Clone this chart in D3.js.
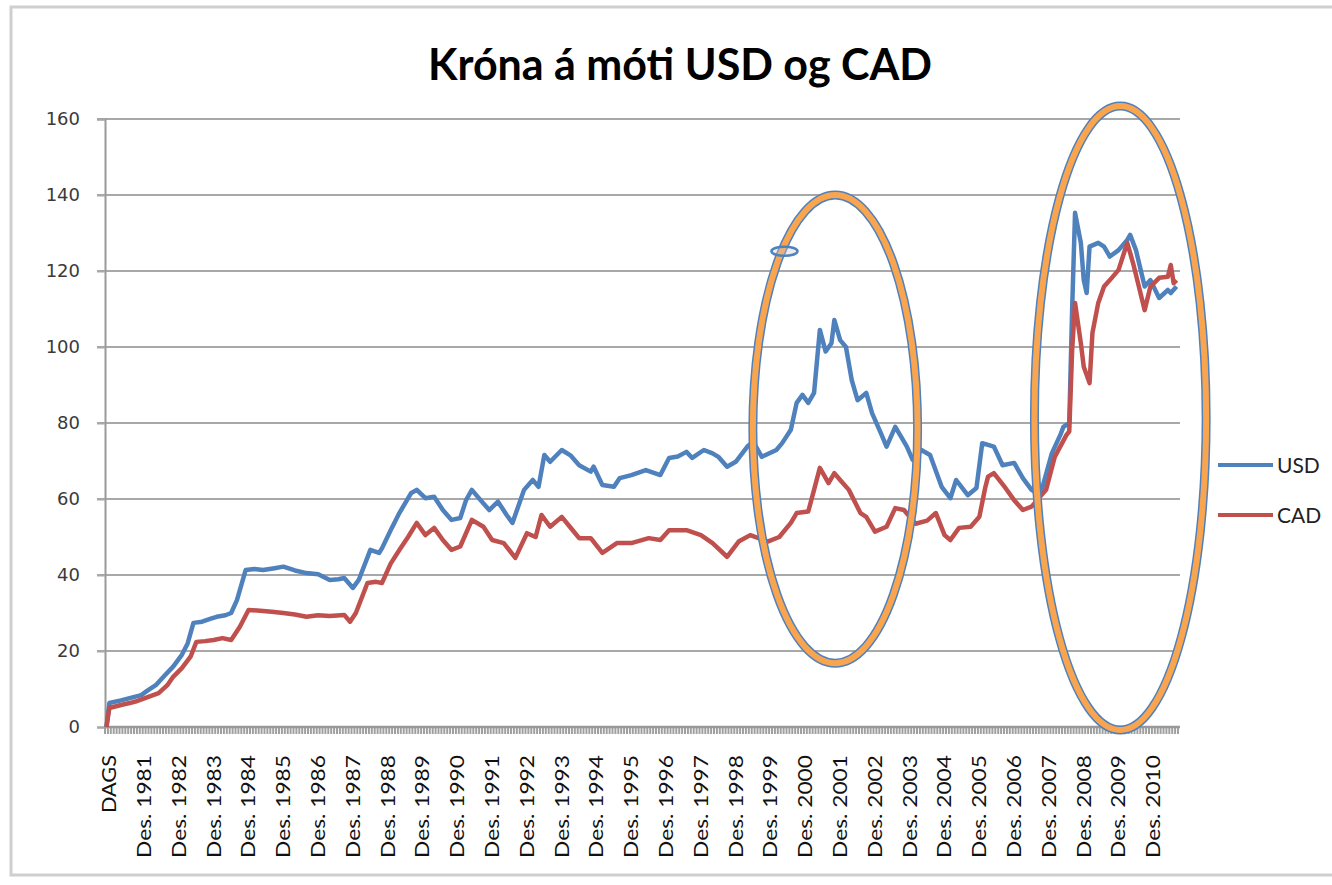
<!DOCTYPE html>
<html><head><meta charset="utf-8">
<script src="https://cdn.jsdelivr.net/npm/d3@7"></script>
<style>body{margin:0;background:#fff}</style></head>
<body>
<svg id="c" width="1332" height="885"></svg>
<script>
const chartTitle = "Króna á móti USD og CAD";
const seriesNames = ["USD", "CAD"];
const yTicks = [0, 20, 40, 60, 80, 100, 120, 140, 160];
const xTickLabels = ["DAGS", "Des. 1981", "Des. 1982", "Des. 1983", "Des. 1984", "Des. 1985", "Des. 1986", "Des. 1987", "Des. 1988", "Des. 1989", "Des. 1990", "Des. 1991", "Des. 1992", "Des. 1993", "Des. 1994", "Des. 1995", "Des. 1996", "Des. 1997", "Des. 1998", "Des. 1999", "Des. 2000", "Des. 2001", "Des. 2002", "Des. 2003", "Des. 2004", "Des. 2005", "Des. 2006", "Des. 2007", "Des. 2008", "Des. 2009", "Des. 2010"];
const categoryCount = 370; // monthly rows, first row "DAGS"
// [month index, value]
const usd = [[0,0],[1,6.3],[5,7.0],[8,7.6],[10,8.0],[12,8.4],[14,9.5],[17,11],[20,13.5],[23,15.9],[26,19],[28,22],[30,27.4],[33,27.7],[36,28.5],[38,29],[41,29.4],[43,30],[45,33.4],[48,41.3],[51,41.6],[54,41.3],[58,41.8],[61,42.2],[65,41.2],[69,40.5],[73,40.2],[77,38.7],[80,38.9],[82,39.2],[85,36.6],[87,38.7],[91,46.6],[94,45.8],[95,47],[98,51.8],[101,56.3],[105,61.5],[107,62.4],[110,60.2],[113,60.6],[116,57.1],[119,54.5],[122,55],[124,59.7],[126,62.4],[129,59.7],[132,57.1],[135,59.3],[138,55.8],[140,53.7],[144,62.4],[147,65],[149,63.2],[151,71.6],[153,69.8],[157,72.9],[160,71.5],[163,68.9],[167,67.2],[168,68.5],[171,63.7],[175,63.2],[177,65.5],[181,66.3],[186,67.6],[191,66.3],[194,70.8],[197,71.2],[200,72.4],[202,70.8],[206,72.9],[209,72.0],[211,71.1],[214,68.5],[217,69.8],[221,73.8],[223,75.1],[226,71.1],[231,72.9],[233,74.7],[236,78.2],[238,85.3],[240,87.4],[242,85.3],[244,87.9],[246,104.5],[248,98.8],[250,101],[251,107.1],[253,101.8],[255,100],[257,91.3],[259,86],[262,87.9],[264,82.6],[267,77.4],[269,73.8],[272,79],[274,76.4],[276,73.8],[278,70.3],[281,72.9],[284,71.6],[288,63.2],[291,60.2],[293,65],[297,61],[300,62.9],[302,74.7],[306,73.8],[309,68.9],[313,69.5],[316,65.5],[319,62.4],[322,61],[326,72],[329,77],[330,79],[332,80],[333,110],[334,135.3],[336,127.4],[337,117.6],[338,114.2],[339,126.4],[342,127.4],[344,126.4],[346,123.8],[349,125.5],[352,128.2],[353,129.5],[355,125.5],[358,115.9],[360,117.6],[363,112.9],[366,115],[367,114.2],[369,115.9]];
const cad = [[0,0],[1,5.0],[5,5.8],[8,6.3],[10,6.7],[14,7.8],[18,8.9],[21,11],[23,13.2],[26,15.5],[29,18.5],[31,22.4],[34,22.6],[37,22.9],[40,23.4],[43,22.9],[46,26.4],[49,30.8],[53,30.6],[57,30.3],[61,30.0],[65,29.6],[69,29],[73,29.4],[77,29.2],[82,29.5],[84,27.7],[86,30],[90,37.9],[93,38.2],[95,37.9],[98,43],[101,46.6],[104,50],[107,53.7],[110,50.5],[113,52.4],[116,49.2],[119,46.6],[122,47.5],[126,54.5],[130,52.7],[133,49.2],[137,48.4],[141,44.5],[145,51],[148,50],[150,55.8],[153,52.7],[157,55.3],[160,52.5],[163,49.7],[167,49.7],[171,45.8],[176,48.4],[181,48.4],[187,49.7],[191,49.2],[194,51.8],[200,51.8],[205,50.5],[209,48.4],[214,44.8],[218,48.8],[222,50.5],[228,48.8],[232,50],[236,53.7],[238,56.3],[242,56.7],[244,62.4],[246,68.2],[249,64.2],[251,66.8],[253,65],[256,62.4],[260,56.3],[262,55.3],[265,51.4],[269,52.7],[272,57.6],[275,57.1],[279,53.5],[283,54.3],[286,56.3],[289,50.5],[291,49.2],[294,52.4],[298,52.7],[301,55.3],[303,62.9],[304,65.9],[306,66.8],[310,62.9],[313,59.7],[316,57.1],[319,58],[324,62.4],[327,71.1],[331,76.8],[332,77.8],[333,99.2],[334,111.6],[336,101],[337,94.8],[339,90.5],[340,103.7],[342,111.6],[344,115.9],[346,117.6],[349,120.3],[352,127.4],[354,122.1],[356,115.9],[358,109.7],[360,115.9],[363,118.2],[366,118.5],[367,121.6],[368,116.8],[369,117.6]];
// highlight ellipses in data units: [centre month, centre value, half-width months, half-height value]
const highlightEllipses = [[251.3, 78.4, 28.4, 61.6], [349.6, 81.3, 29.6, 82.1]];
const smallMark = [233.8, 125.2, 4.5, 1.2];

const svg = d3.select("#c");
const colors = {USD: "#4f81bd", CAD: "#c0504d"};
const plotLeft = 105, plotRight = 1178, plotTop = 119, plotBottom = 727;

const x = d3.scaleLinear().domain([-0.5, categoryCount - 0.5]).range([plotLeft, plotRight]);
const y = d3.scaleLinear().domain([0, 160]).range([plotBottom, plotTop]);

// frame
svg.append("rect").attr("x", 11).attr("y", 7).attr("width", 1340).attr("height", 868)
  .attr("fill", "#fff").attr("stroke", "#cfcfcf").attr("stroke-width", 3);

// title
svg.append("text").attr("x", 680).attr("y", 80).attr("text-anchor", "middle")
  .attr("font-family", "Lato, 'Open Sans', sans-serif").attr("font-weight", 700)
  .attr("font-size", 43).attr("fill", "#000")
  .attr("textLength", 504).attr("lengthAdjust", "spacingAndGlyphs").text(chartTitle);

// gridlines
svg.append("g").selectAll("line").data(yTicks.filter(d => d > 0)).join("line")
  .attr("x1", plotLeft - 8).attr("x2", plotRight + 2)
  .attr("y1", d => y(d)).attr("y2", d => y(d))
  .attr("stroke", "#a8a8a8").attr("stroke-width", 2);

// y axis
const yAxis = svg.append("g").attr("transform", `translate(${plotLeft},0)`)
  .call(d3.axisLeft(y).tickValues(yTicks).tickSize(8).tickPadding(17));
yAxis.select(".domain").attr("stroke", "#999").attr("stroke-width", 2);
yAxis.selectAll(".tick line").attr("stroke", "#a8a8a8").attr("stroke-width", 2);
yAxis.selectAll(".tick text").attr("font-family", "'DejaVu Sans', Verdana, sans-serif")
  .attr("font-size", 18).attr("fill", "#3a3a3a");

// x axis: dense category ticks forming the grey band
const catTicks = d3.range(categoryCount + 1).map(i => i - 0.5);
svg.append("g").selectAll("line").data(catTicks).join("line")
  .attr("x1", d => x(d)).attr("x2", d => x(d)).attr("y1", plotBottom).attr("y2", plotBottom + 7)
  .attr("stroke", "#a0a0a0").attr("stroke-width", 2);
svg.append("line").attr("x1", plotLeft).attr("x2", plotRight + 2).attr("y1", plotBottom).attr("y2", plotBottom)
  .attr("stroke", "#999").attr("stroke-width", 2.5);

// x labels
svg.append("g").selectAll("text").data(xTickLabels).join("text")
  .attr("transform", (d, i) => `translate(${x(i * 12) + 3},755) rotate(-90)`)
  .attr("text-anchor", "end").attr("dy", "0.35em")
  .attr("font-family", "Lato, 'Open Sans', sans-serif").attr("font-size", 19)
  .attr("fill", "#111")
  .attr("textLength", d => d === "DAGS" ? 58 : 103).attr("lengthAdjust", "spacingAndGlyphs")
  .text(d => d);

// lines
const line = d3.line().x(d => x(d[0])).y(d => y(d[1]));
[["USD", usd], ["CAD", cad]].forEach(([name, data]) => {
  svg.append("path").datum(data).attr("d", line).attr("fill", "none")
    .attr("stroke", colors[name]).attr("stroke-width", 4.5).attr("stroke-linejoin", "round");
});

// legend
const lg = svg.append("g");
seriesNames.forEach((name, k) => {
  const ly = 465 + k * 50;
  lg.append("line").attr("x1", 1218).attr("x2", 1273).attr("y1", ly).attr("y2", ly)
    .attr("stroke", colors[name]).attr("stroke-width", 4);
  lg.append("text").attr("x", 1277).attr("y", ly).attr("dy", "0.36em")
    .attr("font-family", "Lato, 'Open Sans', sans-serif").attr("font-size", 21)
    .attr("fill", "#222").text(name);
});

// highlight ellipses
highlightEllipses.forEach(([cm, cv, hm, hv]) => {
  const cx = x(cm), cy = y(cv), rx = x(cm + hm) - cx, ry = cy - y(cv + hv);
  svg.append("ellipse").attr("cx", cx).attr("cy", cy).attr("rx", rx).attr("ry", ry)
    .attr("fill", "none").attr("stroke", "#4f81bd").attr("stroke-width", 9);
  svg.append("ellipse").attr("cx", cx).attr("cy", cy).attr("rx", rx).attr("ry", ry)
    .attr("fill", "none").attr("stroke", "#f9a54f").attr("stroke-width", 6);
});
{
  const [cm, cv, hm, hv] = smallMark;
  const cx = x(cm), cy = y(cv);
  svg.append("ellipse").attr("cx", cx).attr("cy", cy)
    .attr("rx", x(cm + hm) - cx).attr("ry", cy - y(cv + hv))
    .attr("fill", "rgba(200,200,200,0.35)").attr("stroke", "#4f81bd").attr("stroke-width", 2.5);
}
</script>
</body></html>
